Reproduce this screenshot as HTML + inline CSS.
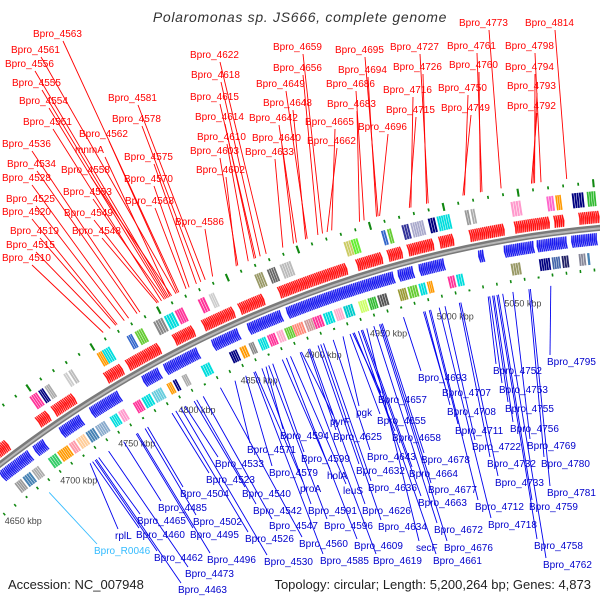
<!DOCTYPE html>
<html><head><meta charset="utf-8"><style>
html,body{margin:0;padding:0;background:#fff;}
svg{display:block;font-family:"Liberation Sans",sans-serif;}
</style></head><body>
<svg id="map" width="600" height="600" viewBox="0 0 600 600" xmlns="http://www.w3.org/2000/svg">
<rect width="600" height="600" fill="#fff"/>
<g id="tracks"></g>
<g id="lines"></g>
<g id="labels"></g>
<text x="300" y="22" text-anchor="middle" font-size="14" font-style="italic" fill="#333" letter-spacing="0.7">Polaromonas sp. JS666, complete genome</text>
<text x="8" y="589" font-size="13" fill="#222">Accession: NC_007948</text>
<text x="591" y="589" text-anchor="end" font-size="13" fill="#222">Topology: circular; Length: 5,200,264 bp; Genes: 4,873</text>
</svg>
<script>
// ---- data ----
const tickKbp = [4650,4700,4750,4800,4850,4900,4950,5000,5050];
const forwardBlocks = [[4654,4667],[4692,4701],[4705,4722],[4747,4760],[4764,4789],[4800,4815],[4822,4845],[4849,4867],[4878,4893],[4893,4927],[4934,4952],[4956,4966],[4970,4988],[4992,5002],[5013,5037],[5044,5068],[5071,5078],[5088,5102]];
const reverseBlocks = [[4650,4675],[4679,4688],[4701,4718],[4726,4749],[4768,4781],[4785,4811],[4822,4842],[4849,4874],[4878,4893],[4893,4927],[4927,4956],[4959,4970],[4974,4992],[5016,5020],[5034,5055],[5057,5078],[5081,5099],[5102,5106]];
const outerBars = [[4697,4703,"#ff3399"],[4704,4708,"#000080"],[4709,4713,"#aaaaaa"],[4724,4727,"#cccccc"],[4728,4731,"#bbbbbb"],[4750,4754,"#ff9900"],[4754,4760,"#00dddd"],[4773,4777,"#3366cc"],[4779,4785,"#66cc33"],[4793,4800,"#888888"],[4801,4808,"#00dddd"],[4809,4815,"#ff3399"],[4826,4831,"#ff3399"],[4834,4838,"#cccccc"],[4867,4873,"#999966"],[4876,4882,"#666666"],[4885,4893,"#bbbbbb"],[4930,4935,"#cccc66"],[4935,4940,"#66ee33"],[4956,4959,"#3366cc"],[4960,4963,"#66cc33"],[4970,4975,"#333399"],[4976,4985,"#aaaacc"],[4988,4993,"#000080"],[4994,5003,"#00dddd"],[5013,5016,"#999999"],[5017,5020,"#aaaaaa"],[5044,5051,"#ff99cc"],[5068,5073,"#ff66cc"],[5074,5078,"#ff9900"],[5085,5093,"#000080"],[5095,5101,"#33bb33"]];
const innerBars = [[4654,4660,"#999999"],[4661,4668,"#4682b4"],[4669,4675,"#aaaaaa"],[4683,4690,"#33cc66"],[4691,4700,"#ff9900"],[4701,4706,"#ff99aa"],[4707,4714,"#ffcc99"],[4715,4722,"#4682b4"],[4723,4731,"#88aacc"],[4735,4741,"#00dddd"],[4742,4747,"#ff99cc"],[4754,4760,"#ff3399"],[4761,4768,"#00dddd"],[4769,4777,"#66ccdd"],[4781,4785,"#ff9900"],[4786,4789,"#000080"],[4793,4797,"#aaaaaa"],[4808,4815,"#00dddd"],[4830,4836,"#000080"],[4838,4843,"#ff9900"],[4845,4849,"#888888"],[4852,4858,"#00dddd"],[4859,4865,"#ff3399"],[4866,4871,"#ffaacc"],[4872,4878,"#66cc33"],[4878,4886,"#ff8877"],[4887,4893,"#cc9999"],[4893,4900,"#ff3399"],[4901,4908,"#00dddd"],[4909,4915,"#ffaacc"],[4916,4923,"#00cccc"],[4927,4933,"#ccff66"],[4934,4940,"#33bb33"],[4941,4948,"#555555"],[4956,4962,"#999933"],[4963,4970,"#66cc33"],[4971,4976,"#00dddd"],[4977,4981,"#ff9900"],[4992,4997,"#ff3399"],[4998,5003,"#00dddd"],[5037,5044,"#999966"],[5057,5065,"#000080"],[5066,5072,"#4466aa"],[5073,5078,"#222266"],[5085,5090,"#888899"],[5091,5093,"#4682b4"]];
const redNames = ["Bpro_4563","Bpro_4561","Bpro_4556","Bpro_4555","Bpro_4554","Bpro_4551","Bpro_4562","Bpro_4536","mnmA","Bpro_4534","Bpro_4558","Bpro_4528","Bpro_4553","Bpro_4525","Bpro_4520","Bpro_4549","Bpro_4519","Bpro_4548","Bpro_4515","Bpro_4510","Bpro_4581","Bpro_4578","Bpro_4575","Bpro_4570","Bpro_4568","Bpro_4586","Bpro_4622","Bpro_4618","Bpro_4615","Bpro_4614","Bpro_4610","Bpro_4603","Bpro_4602","Bpro_4633","Bpro_4640","Bpro_4642","Bpro_4648","Bpro_4649","Bpro_4656","Bpro_4659","Bpro_4695","Bpro_4694","Bpro_4686","Bpro_4683","Bpro_4665","Bpro_4662","Bpro_4696","Bpro_4727","Bpro_4726","Bpro_4716","Bpro_4715","Bpro_4773","Bpro_4761","Bpro_4760","Bpro_4750","Bpro_4749","Bpro_4814","Bpro_4798","Bpro_4794","Bpro_4793","Bpro_4792"];
const redGenes = [4563,4561,4556,4555,4554,4551,4562,4536,4557,4534,4558,4528,4553,4525,4520,4549,4519,4548,4515,4510,4581,4578,4575,4570,4568,4586,4622,4618,4615,4614,4610,4603,4602,4633,4640,4642,4648,4649,4656,4659,4695,4694,4686,4683,4665,4662,4696,4727,4726,4716,4715,4773,4761,4760,4750,4749,4814,4798,4794,4793,4792];
const redX = [33,11,5,12,19,23,79,2,75,7,61,2,63,6,2,64,10,72,6,2,108,112,124,124,125,175,190,191,190,195,197,190,196,245,252,249,263,256,273,273,335,338,326,327,305,307,358,390,393,383,386,459,447,449,438,441,525,505,505,507,507];
const redY = [37,53,67,86,104,125,137,147,153,167,173,181,195,202,215,216,234,234,248,261,101,122,160,182,204,225,58,78,100,120,140,154,173,155,141,121,106,87,71,50,53,73,87,107,125,144,130,50,70,93,113,26,49,68,91,111,26,49,70,89,109];
const blueNames = ["Bpro_4571","Bpro_4533","Bpro_4523","Bpro_4504","Bpro_4540","Bpro_4485","Bpro_4542","Bpro_4465","Bpro_4502","Bpro_4547","rplL","Bpro_4460","Bpro_4495","Bpro_4526","Bpro_4560","Bpro_R0046","Bpro_4462","Bpro_4496","Bpro_4530","Bpro_4473","Bpro_4463","Bpro_4594","Bpro_4599","Bpro_4579","proA","holA","leuS","Bpro_4591","Bpro_4596","Bpro_4585","pyrF","pgk","Bpro_4625","Bpro_4657","Bpro_4655","Bpro_4658","Bpro_4643","Bpro_4632","Bpro_4636","Bpro_4626","Bpro_4634","Bpro_4609","Bpro_4619","secF","Bpro_4693","Bpro_4707","Bpro_4708","Bpro_4711","Bpro_4678","Bpro_4664","Bpro_4677","Bpro_4663","Bpro_4672","Bpro_4676","Bpro_4661","Bpro_4722","Bpro_4732","Bpro_4733","Bpro_4712","Bpro_4718","Bpro_4752","Bpro_4753","Bpro_4755","Bpro_4756","Bpro_4769","Bpro_4780","Bpro_4781","Bpro_4759","Bpro_4758","Bpro_4762","Bpro_4795"];
const blueGenes = [4571,4533,4523,4504,4540,4485,4542,4465,4502,4547,4458,4460,4495,4526,4560,4424,4462,4496,4530,4473,4463,4594,4599,4579,4586,4606,4612,4591,4596,4585,4620,4650,4625,4657,4655,4658,4643,4632,4636,4626,4634,4609,4619,4667,4693,4707,4708,4711,4678,4664,4677,4663,4672,4676,4661,4722,4732,4733,4712,4718,4752,4753,4755,4756,4769,4780,4781,4759,4758,4762,4795];
const blueX = [247,215,206,180,242,158,253,137,193,269,115,136,190,245,299,94,154,207,264,185,178,280,301,269,300,327,343,308,324,320,330,356,333,378,377,392,367,356,368,362,378,354,373,416,418,442,447,455,421,409,428,418,434,444,433,472,487,495,475,488,493,499,505,510,527,541,547,529,534,543,547];
const blueY = [453,467,483,497,497,511,514,524,525,529,539,538,538,542,547,554,561,563,565,577,593,439,462,476,492,479,494,514,529,564,425,416,440,403,424,441,460,474,491,514,530,549,564,551,381,396,415,434,463,477,493,506,533,551,564,450,467,486,510,528,374,393,412,432,449,467,496,510,549,568,365];

// ---- geometry ----
const CX=705, CY=1373, R=1150;
const NS="http://www.w3.org/2000/svg";
function thK(k){return -9 + (k-5050)*0.0728;}
function thG(g){return -33.9 + (g-4460)*0.0771;}
function pol(r,th){const a=th*Math.PI/180;return [CX+r*Math.sin(a), CY-r*Math.cos(a)];}
function P(p){return p[0].toFixed(1)+","+p[1].toFixed(1);}
function mk(tag,attrs,parent){const e=document.createElementNS(NS,tag);for(const k in attrs)e.setAttribute(k,attrs[k]);parent.appendChild(e);return e;}
function sector(r1,r2,t1,t2){const a=pol(r2,t1),b=pol(r2,t2),c=pol(r1,t2),d=pol(r1,t1);
 return "M"+P(a)+" A"+r2+","+r2+" 0 0 1 "+P(b)+" L"+P(c)+" A"+r1+","+r1+" 0 0 0 "+P(d)+"Z";}
const tracks=document.getElementById('tracks'), lines=document.getElementById('lines'), labels=document.getElementById('labels');

// green dot rings
for(let k=4600;k<=5110;k+=10){
 [[R+44,R+47],[R-40,R-43]].forEach(function(rr,i){
  const big=(k%50===0);
  const t=thK(k+(i?5:0)), w=big?0.05:0.04;
  const ro=big?rr[1]+2:rr[1], ri=big?rr[0]-3:rr[0];
  const d=mk('path',{d:sector(Math.min(ri,ro),Math.max(ri,ro),t-w,t+w),fill:'#118811'},tracks);
  
  
 });
}
// color bars, drawn as thin stripes
function bars(list,r1,r2,name){
 list.forEach(function(b){
  const n=Math.max(1,Math.round((b[1]-b[0])/1.6));const st=(b[1]-b[0])/n;
  for(let i=0;i<n;i++){
   const e=mk('path',{d:sector(r1,r2,thK(b[0]+i*st),thK(b[0]+i*st+st*0.8)),fill:b[2]},tracks);
   
   
  }
 });
}
bars(outerBars,R+22,R+37,'outer-feature-bar');
bars(innerBars,R-36,R-24,'inner-feature-bar');
// arrows
function arrows(blocks,r1,r2,fwd,color,name){
 blocks.forEach(function(b){
  const n=Math.max(1,Math.round((b[1]-b[0])/1.3)); const step=(b[1]-b[0])/n; const rm=(r1+r2)/2;
  for(let i=0;i<n;i++){
   const s=b[0]+i*step, e=s+step, h=step*0.45;
   let pts;
   if(fwd) pts=[pol(r1,thK(s)),pol(r1,thK(e-h)),pol(rm,thK(e)),pol(r2,thK(e-h)),pol(r2,thK(s)),pol(rm,thK(s+h*0.5))];
   else pts=[pol(r1,thK(e)),pol(r1,thK(s+h)),pol(rm,thK(s)),pol(r2,thK(s+h)),pol(r2,thK(e)),pol(rm,thK(e-h*0.5))];
   const el=mk('polygon',{points:pts.map(P).join(' '),fill:color,stroke:color,'stroke-width':0.3},tracks);
   
   
  }
 });
}
arrows(forwardBlocks,R+5,R+17,true,'#ff1010','forward-cds');
arrows(reverseBlocks,R-17,R-5,false,'#1a1aee','reverse-cds');
// backbone
const bb1=mk('path',{d:"M"+P(pol(R,-40))+" A"+R+","+R+" 0 0 1 "+P(pol(R,-3)),fill:'none',stroke:'#7a7a7a','stroke-width':6},tracks);


const bb2=mk('path',{d:"M"+P(pol(R-0.5,-40))+" A"+R+","+R+" 0 0 1 "+P(pol(R-0.5,-3)),fill:'none',stroke:'#b8b8b8','stroke-width':2},tracks);


// kbp tick labels
tickKbp.forEach(function(k){const p=pol(R-66,thK(k));
 const t=mk('text',{x:(p[0]+6).toFixed(1),y:(p[1]+4).toFixed(1),'text-anchor':'end','font-size':9,fill:'#444'},tracks);
 t.textContent=k+" kbp";
 
 });
// red labels
redNames.forEach(function(nm,i){
 const x=redX[i], y=redY[i], e=pol(R+52,thG(redGenes[i]));
 const l=mk('line',{x1:x+30,y1:y+4,x2:e[0].toFixed(1),y2:e[1].toFixed(1),stroke:'#ff0000','stroke-width':0.9},lines);
 
 
 const t=mk('text',{x:x,y:y,'font-size':10,fill:'#ff0000'},labels);
 t.textContent=nm;
 
 
});
// blue labels
blueNames.forEach(function(nm,i){
 const x=blueX[i], y=blueY[i], s=pol(R-52,thG(blueGenes[i]));
 const col=nm==="Bpro_R0046"?'#33bbff':'#0000ee';
 const l=mk('line',{x1:s[0].toFixed(1),y1:s[1].toFixed(1),x2:x+3,y2:y-10,stroke:col,'stroke-width':0.9},lines);
 
 
 const t=mk('text',{x:x,y:y,'font-size':10,fill:nm==="Bpro_R0046"?'#33bbff':'#0000cc'},labels);
 t.textContent=nm;
 
 
});
</script>
</body></html>
